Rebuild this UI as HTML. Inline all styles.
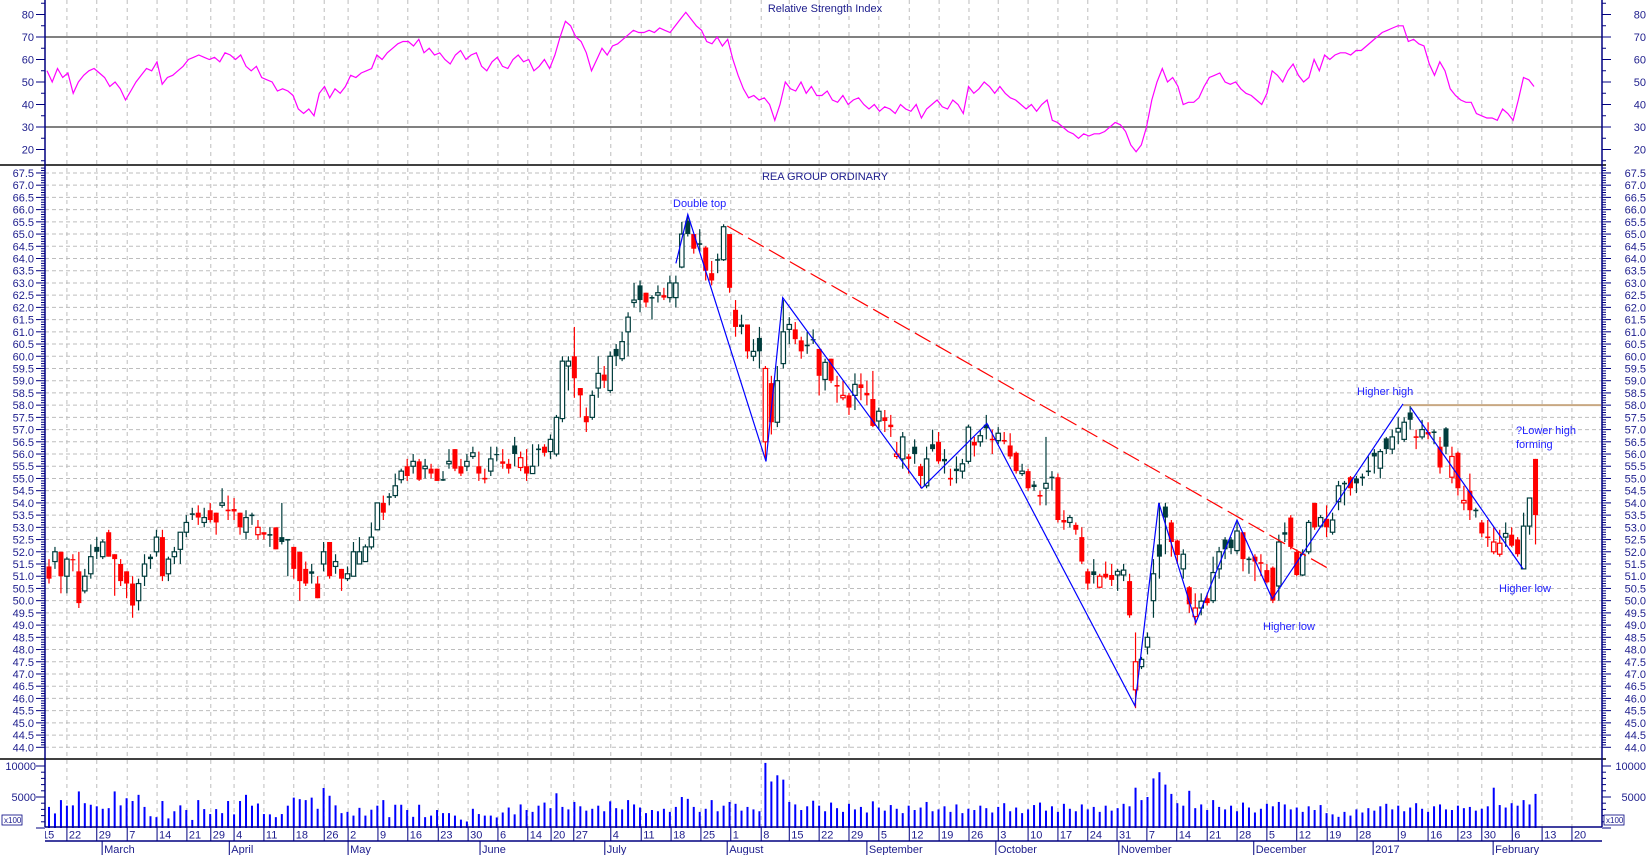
<!DOCTYPE html>
<html><head><meta charset="utf-8">
<style>
html,body{margin:0;padding:0;background:#fff;}
svg{display:block;font-family:"Liberation Sans",sans-serif;}
</style></head>
<body>
<svg id="chart" width="1650" height="855" viewBox="0 0 1650 855" xmlns="http://www.w3.org/2000/svg">
<rect x="0" y="0" width="1650" height="855" fill="#fff"/>
<defs><clipPath id="plotclip"><rect x="45" y="0" width="1557" height="855"/></clipPath></defs>
<g id="grid"></g>
<g id="rsi"></g>
<g id="price"></g>
<g id="vol"></g>
<g id="axes"></g>
<g id="ann"></g>
</svg>
<script>
const opens=[51.4,51.6,52.0,51.0,51.7,51.2,50.4,51.1,52.2,51.8,52.8,51.9,51.5,51.2,50.7,50.0,51.0,51.8,52.0,52.6,51.1,51.8,52.1,52.8,53.55,53.6,53.2,53.7,53.6,53.9,53.7,53.75,53.6,52.8,53.5,52.7,52.8,52.7,53.0,52.6,52.5,52.2,52.0,51.3,51.2,50.7,51.5,52.4,51.4,51.3,50.9,51.0,51.5,51.6,52.2,52.9,54.0,54.2,54.3,
54.95,55.5,55.5,55.7,55.4,55.4,55.4,54.95,55.6,56.2,55.5,55.5,55.9,55.5,55.0,55.3,56.0,55.7,55.6,56.35,55.45,55.5,55.2,56.2,56.3,56.1,56.0,57.45,59.6,60.0,58.7,57.55,57.5,
58.7,59.25,58.6,60.3,59.9,61.0,62.2,62.9,62.6,62.4,62.5,62.5,62.4,62.4,63.65,65.55,65.0,64.6,64.45,63.4,63.95,63.95,65.0,61.9,61.3,61.3,60.0,60.75,56.5,58.9,57.3,59.7,61.1,
61.1,60.65,60.45,60.7,60.3,59.05,59.9,58.8,58.3,58.4,58.4,58.85,58.5,58.25,57.35,57.5,57.2,55.9,55.8,55.9,56.3,55.5,54.7,56.4,56.5,55.8,55.0,55.4,55.3,55.7,56.5,56.5,
57.2,56.6,56.55,56.55,56.35,56.05,55.2,55.3,54.75,54.3,54.6,55.05,55.05,53.3,53.2,53.1,52.6,51.2,51.2,50.55,51.1,51.05,51.05,51.05,50.8,46.35,47.3,48.1,50.0,52.3,53.85,53.2,52.46,
51.3,50.55,49.35,49.7,50.1,50.0,51.3,52.5,52.5,52.05,52.8,51.7,51.8,51.55,51.25,51.35,50.6,52.8,53.4,52.0,51.05,52.0,54.0,53.05,53.35,52.8,54.05,54.8,55.05,55.0,55.05,55.3,56.05,
55.42,56.64,56.2,56.9,56.6,57.7,56.7,56.7,56.9,56.9,56.3,57.05,55.05,56.05,54.0,54.5,53.7,53.2,52.6,52.0,51.9,52.6,52.7,52.5,51.3,53.05,55.8];
const closes=[50.9,52.0,51.0,51.7,51.65,49.9,51.0,51.8,52.0,52.4,51.8,51.7,50.8,50.7,49.8,50.7,51.5,51.7,52.6,51.0,51.7,52.0,52.8,53.2,53.55,53.4,53.4,53.3,53.2,54.0,53.7,53.65,53.0,53.4,53.5,53.0,52.7,52.7,52.1,52.4,52.5,51.3,50.8,50.7,51.1,50.1,52.0,51.0,51.6,50.9,51.1,52.0,52.0,52.2,52.6,54.0,53.6,54.25,54.7,
55.3,55.1,55.7,54.95,55.5,55.2,54.9,54.95,55.7,55.4,55.2,55.7,56.05,55.2,55.0,55.8,55.95,55.6,55.4,56.0,55.85,55.2,55.5,56.2,56.05,56.6,57.5,59.8,59.8,59.1,58.4,57.3,58.4,
59.3,59.0,60.0,60.0,60.6,61.6,62.3,62.3,62.2,62.4,62.6,62.4,63.0,63.0,65.0,65.0,64.4,64.6,63.5,63.1,63.95,65.3,62.8,61.2,61.2,60.2,60.2,60.2,59.5,57.3,59.0,61.0,61.3,
60.7,60.2,60.45,60.65,59.2,59.75,59.0,58.8,58.4,57.9,58.85,58.7,58.4,57.15,57.75,57.35,57.1,56.0,56.7,55.8,56.0,55.1,55.8,56.2,55.7,55.7,55.0,55.3,55.6,57.1,56.35,56.75,
57.05,56.6,56.85,56.55,55.9,55.3,55.3,54.6,54.65,54.3,54.8,55.05,53.3,53.2,53.4,52.9,51.6,50.7,51.05,51.0,50.95,50.85,51.2,51.25,49.4,47.5,47.6,48.5,51.1,51.8,53.4,52.4,51.87,
51.9,49.85,49.7,49.98,49.9,51.15,52.0,52.1,52.15,52.85,51.7,51.7,51.6,51.55,50.75,50.0,52.4,52.7,52.2,51.05,51.9,53.2,53.0,53.4,53.0,53.3,54.7,54.8,54.6,54.8,55.05,55.3,55.9,
56.1,56.2,56.7,57.05,57.3,57.4,56.7,57.0,56.8,56.9,55.45,56.3,55.9,54.6,54.1,53.7,53.7,52.75,52.6,52.4,52.35,52.75,52.25,51.9,53.05,54.2,53.5];
const highs=[51.7,52.2,52.0,51.8,51.9,52.0,51.3,52.3,52.6,52.5,52.9,51.9,51.7,51.2,51.0,50.9,51.9,51.9,52.9,52.9,51.8,52.2,52.8,53.5,53.8,53.9,53.8,54.0,53.6,54.6,54.3,54.2,53.6,53.7,53.6,53.3,52.8,53.0,53.0,54.0,52.5,52.2,52.0,51.6,51.5,51.0,52.4,52.4,51.9,51.3,51.4,52.4,52.6,52.3,53.2,54.0,54.3,54.4,55.2,
55.4,55.8,56.0,55.8,55.8,55.6,55.4,55.3,56.2,56.2,55.8,56.0,56.3,56.1,55.4,56.3,56.3,56.2,55.8,56.7,56.1,56.2,56.4,56.4,56.4,56.8,57.6,60.0,60.0,61.2,58.7,57.9,58.6,
60.0,59.6,60.2,60.5,61.0,61.8,63.0,63.1,62.6,62.5,62.9,62.8,63.3,63.3,65.5,65.8,65.0,65.2,64.5,63.9,64.2,65.4,65.0,62.3,61.7,61.3,60.7,61.2,59.6,59.2,59.6,62.3,61.6,
61.4,60.8,61.0,61.1,60.3,59.9,59.9,59.2,59.0,58.5,59.3,59.3,59.0,59.4,57.9,57.8,57.6,56.5,56.9,56.0,56.6,55.6,56.3,57.0,56.9,56.2,55.4,55.9,55.8,57.2,56.7,57.0,
57.6,57.0,57.1,56.9,56.85,56.1,55.6,55.4,54.9,54.5,56.7,55.3,55.2,53.7,53.5,53.2,53.0,51.3,51.7,51.1,51.6,51.5,51.3,51.5,51.1,48.7,47.7,48.7,51.7,54.0,54.0,53.3,52.5,
52.1,50.6,50.3,50.3,50.3,51.8,52.2,52.6,52.6,53.2,52.8,51.8,51.9,51.9,51.5,51.4,52.7,53.2,53.5,52.1,52.1,53.3,54.0,53.5,53.9,53.6,54.9,54.9,55.1,55.1,55.2,55.9,56.2,
56.2,56.7,57.0,57.5,57.5,58.0,57.0,57.4,57.3,57.0,56.7,57.1,56.3,56.1,54.7,55.2,53.8,53.3,53.3,53.0,52.9,53.2,53.0,52.6,53.6,54.2,55.8];
const lows=[50.7,51.3,50.3,50.3,51.2,49.7,50.3,50.9,51.7,51.7,51.8,50.2,50.6,50.1,49.3,49.6,50.6,51.3,51.8,50.8,50.8,51.5,51.5,52.6,53.3,53.1,53.0,53.2,52.7,53.8,53.3,53.3,52.7,52.5,53.1,52.5,52.5,52.2,52.1,52.3,51.0,50.9,50.0,50.6,50.7,50.1,51.2,50.9,51.1,50.4,50.8,51.0,51.5,51.6,52.1,52.9,53.3,53.9,54.2,
54.8,54.9,55.2,54.9,55.0,55.0,54.9,54.9,55.4,55.3,55.1,55.3,55.8,54.9,54.8,55.1,55.7,55.4,55.2,55.5,55.3,54.9,55.2,55.5,55.9,55.8,55.9,57.3,58.6,58.3,57.5,56.9,57.4,
58.3,58.7,58.5,59.6,59.8,60.0,62.0,61.8,62.0,61.5,62.2,62.3,62.2,62.0,63.6,64.9,64.2,64.3,63.1,62.9,63.4,63.9,62.6,60.8,60.9,59.9,59.8,59.5,55.8,56.8,57.1,59.5,60.5,
60.5,59.9,60.1,60.5,58.4,58.6,58.9,58.1,58.2,57.6,57.8,58.2,58.0,57.1,57.0,56.9,56.7,55.8,55.4,55.2,55.6,54.6,54.6,56.1,55.6,55.2,54.7,54.8,55.0,55.6,55.9,56.3,
56.6,56.0,56.4,56.4,55.8,55.2,55.1,54.5,54.5,53.9,53.9,54.5,53.2,52.9,53.0,52.7,51.5,50.45,50.7,50.5,50.9,50.6,50.4,50.8,49.3,45.6,47.2,47.8,49.3,50.9,51.9,51.8,51.5,
50.9,49.5,49.0,49.4,49.8,49.9,50.9,51.7,51.9,51.9,51.2,51.1,50.8,51.0,50.7,49.9,50.0,52.4,52.1,51.0,51.0,51.9,52.9,53.0,52.6,52.7,53.7,53.9,54.3,54.4,54.7,55.1,55.2,
55.0,56.0,56.0,56.4,56.5,57.0,56.2,56.6,56.6,56.4,55.2,56.0,54.8,54.3,53.7,53.3,53.4,52.6,52.2,51.9,51.8,52.2,52.2,51.8,51.3,52.7,52.3];
const volumes=[3400,2350,4500,3600,3650,5900,4000,3750,3500,3100,3200,5900,3650,4800,4350,5350,3400,1900,1750,4350,1550,2700,3650,2900,1300,4500,3050,2250,3050,2400,4350,2200,4350,5350,3600,3950,2250,2200,1750,2250,3600,4900,4650,4500,4900,3100,6450,5200,3650,2400,2600,2000,3250,2000,2950,3600,4500,1750,3750,3750,2900,1800,3750,1750,2000,2900,2400,2400,2000,1350,1050,3100,2250,2000,2000,1700,
2500,3300,2200,3800,2900,2600,3600,4100,3200,5600,3400,3000,4200,3500,2800,3100,
3600,2700,4300,3200,3000,4500,3800,3300,2400,2900,2700,3100,2600,3400,
5000,4700,3400,2600,3100,4500,2700,3600,4200,3900,2800,3400,3000,2700,
10500,7500,8500,7800,4200,
3800,2900,3500,4400,3600,2700,4100,3200,2600,3900,3000,3400,2500,4300,3300,2800,3700,3100,2400,3600,2900,3300,4200,2700,3000,3500,2600,3800,2400,3100,2900,3600,3200,2500,3400,4000,2700,3300,2400,3000,3700,4100,2800,3500,2600,3900,3100,2700,3800,3000,3400,2600,3600,2800,3200,3900,
3500,6500,4500,5000,8000,9000,7000,5500,4000,3600,6000,
3200,3800,2900,4500,3400,3000,3600,2700,4100,3300,2500,3100,3900,3500,4200,3800,3000,3300,2600,3500,2900,3700,2400,2200,1800,2600,2000,3000,2500,3200,2800,3500,3900,3000,3600,2700,3300,4000,3100,2600,3500,3800,3000,2900,3600,3200,3400,2800,3100,3500,6500,3700,3300,4000,3600,4500,3800,5500];
const rsiValues=[55,50,56,52,54,45,50,53,55,56,54,52,48,50,47,42,46,50,53,56,55,59,49,52,53,55,57,60,61,62,61,60,61,59,63,62,60,62,57,55,57,52,51,50,46,47,46,44,38,36,38,35,45,48,43,47,45,48,53,52,54,55,56,62,60,63,65,67,68,68,66,69,63,65,62,63,60,58,62,64,60,62,63,57,55,59,61,57,56,60,62,59,60,55,57,60,56,62,70,77,75,70,68,63,55,60,65,62,66,67,69,71,73,72,72,73,72,74,73,72,75,78,81,78,75,73,68,67,70,66,69,60,53,47,43,44,42,43,40,33,40,50,47,46,50,45,48,44,44,46,42,41,44,40,42,43,40,38,40,37,39,38,36,40,38,37,40,34,38,40,42,39,38,42,40,36,48,45,47,50,48,45,48,45,43,42,40,38,40,37,40,42,33,32,30,28,27,25,27,26,27,27,28,30,32,31,28,22,19,22,30,42,50,56,50,52,48,40,41,41,43,48,52,53,54,50,49,50,47,45,44,42,40,45,55,53,50,55,58,53,50,52,60,55,62,60,62,63,63,62,64,64,66,68,70,72,73,74,75,75,68,69,67,66,58,53,59,55,47,44,42,41,41,36,35,34,34,33,38,36,33,42,52,51,48];
const dayLabels=["15","22","29","7","14","21","29","4","11","18","26","2","9","16","23","30","6","14","20","27","4","11","18","25","1","8","15","22","29","5","12","19","26","3","10","17","24","31","7","14","21","28","5","12","19","28","9","16","23","30","6","13","20"];
const dayIdx=[-1.5,3,8,13.1,18.1,23.1,27.1,31,36,41,46.1,50.1,55.1,60.1,65.2,70.2,75.2,80.2,84.1,87.9,94.1,99.2,104.2,109.2,114.2,119.3,124,129,134,139,144.1,149.1,154.1,159,164,169,174,178.9,183.9,188.9,194,199,204,209,214.1,219.1,226,231,236,240,245.1,250.1,255.1];
const monthLabels=["March","April","May","June","July","August","September","October","November","December","2017","February"];
const monthIdx=[8.9,30.2,50.1,72.2,93.1,113.6,137.0,158.6,179.2,201.8,221.8,241.9];
const priceTicks=[44,44.5,45,45.5,46,46.5,47,47.5,48,48.5,49,49.5,50,50.5,51,51.5,52,52.5,53,53.5,54,54.5,55,55.5,56,56.5,57,57.5,58,58.5,59,59.5,60,60.5,61,61.5,62,62.5,63,63.5,64,64.5,65,65.5,66,66.5,67,67.5];
const rsiTicks=[20,30,40,50,60,70,80];
const volTicks=[5000,10000];
const zigA=[[105.0,63.8],[107.0,65.8],[120.1,55.7],[122.9,62.4],[146.2,54.6],[157.1,57.25],[181.9,45.7],[185.9,54.0],[192.1,49.1],[199.0,53.3],[204.9,50.07],[226.8,58.05]];
const zigB=[[228.1,57.9],[246.9,51.3]];
const downTrend=[[113.6,65.33],[214.2,51.33]];
const resistance=[[226.8,58.0],[260,58.0]];

const NS="http://www.w3.org/2000/svg";
const L=45,R=1602;
const xOf=i=>49+5.97*i;
const yP=p=>747.3-(p-44)*24.44;
const yR=v=>37+(70-v)*2.25;
const yV=v=>828-v*31/5000;
function mk(parent,tag,attrs,text){const e=document.createElementNS(NS,tag);for(const k in attrs)e.setAttribute(k,attrs[k]);if(text!==undefined)e.textContent=text;parent.appendChild(e);return e;}
const G=document.getElementById('grid'),RS=document.getElementById('rsi'),PR=document.getElementById('price'),VO=document.getElementById('vol'),AX=document.getElementById('axes'),AN=document.getElementById('ann');
const NAVY="#1c1c8c";
// vertical grid
dayIdx.forEach((d,k)=>{const x=xOf(d);if(x<L+2||x>R-1)return;
 const ln=mk(G,'line',{x1:x,y1:0,x2:x,y2:827,stroke:'#bdbdbd','stroke-width':1,'stroke-dasharray':'4,4'});
 
 });
// horizontal price grid
priceTicks.forEach(p=>{const ln=mk(G,'line',{x1:L,y1:yP(p),x2:R,y2:yP(p),stroke:'#bdbdbd','stroke-width':1,'stroke-dasharray':'4,3'});
 
 });
// RSI
[70,30].forEach(v=>{const ln=mk(RS,'line',{x1:L,y1:yR(v),x2:R,y2:yR(v),stroke:'#808080','stroke-width':2});
 
 });
const rx0=47,rx1=1534;
const rpts=rsiValues.map((v,i)=>(rx0+(rx1-rx0)*i/(rsiValues.length-1)).toFixed(1)+','+yR(v).toFixed(1)).join(' ');
const rl=mk(RS,'polyline',{points:rpts,fill:'none',stroke:'#ff00ff','stroke-width':1.2});


const t1=mk(RS,'text',{x:825,y:12,'font-size':11,fill:NAVY,'text-anchor':'middle'},'Relative Strength Index');


// candles
const UP="#003c3c",DN="#ff0000";
opens.forEach((o,i)=>{const c=closes[i],h=highs[i],l=lows[i];const prev=i>0?closes[i-1]:o;
 const col=c<prev?DN:UP;const x=xOf(i);
 const g=mk(PR,'g',{});
 
 
 mk(g,'line',{x1:x,y1:yP(h),x2:x,y2:yP(l),stroke:col,'stroke-width':1.2});
 const top=yP(Math.max(o,c)),bot=yP(Math.min(o,c));const hh=Math.max(bot-top,1);
 if(c<o) mk(g,'rect',{x:x-2.5,y:top,width:5,height:hh,fill:col});
 else if(bot-top<1.5) mk(g,'rect',{x:x-2.5,y:top-0.6,width:5,height:1.6,fill:col});
 else mk(g,'rect',{x:x-2.2,y:top,width:4.4,height:hh,fill:'#fff',stroke:col,'stroke-width':1.2});
});
const t2=mk(PR,'text',{x:825,y:180,'font-size':11,fill:NAVY,'text-anchor':'middle'},'REA GROUP ORDINARY');


// volume
volumes.forEach((v,i)=>{const x=xOf(i);const b=mk(VO,'rect',{x:x-1,y:yV(v),width:2,height:828-yV(v),fill:'#0000ff'});
 
 });
// annotations
function poly(pts,attrs,name){const p=mk(AN,'polyline',Object.assign({points:pts.map(q=>xOf(q[0]).toFixed(1)+','+yP(q[1]).toFixed(1)).join(' '),fill:'none'},attrs));}
poly(downTrend,{stroke:'#ff0000','stroke-width':1.2,'stroke-dasharray':'18,6'},'downtrend-line');
poly(resistance,{stroke:'#c8a882','stroke-width':2},'resistance-line-58');
poly(zigA,{stroke:'#0000ff','stroke-width':1.2},'zigzag-line');
poly(zigB,{stroke:'#0000ff','stroke-width':1.2},'zigzag-line-2');
[['Double top',673,207,'double-top-label'],['Higher high',1357,395,'higher-high-label'],['?Lower high',1516,434,'lower-high-label'],['forming',1516,448,'forming-label'],['Higher low',1263,630,'higher-low-label-1'],['Higher low',1499,592,'higher-low-label-2']].forEach(a=>{
 const t=mk(AN,'text',{x:a[1],y:a[2],'font-size':11,fill:'#2020ff'},a[0]);
 
 });
// axes frame
mk(AX,'line',{x1:0,y1:165,x2:R+4,y2:165,stroke:'#000','stroke-width':1.5});
mk(AX,'line',{x1:0,y1:759,x2:R+4,y2:759,stroke:'#000','stroke-width':1.5});
mk(AX,'line',{x1:L,y1:0,x2:L,y2:827,stroke:'#000080','stroke-width':1.5});
mk(AX,'line',{x1:R,y1:0,x2:R,y2:827,stroke:'#000080','stroke-width':1.5});
mk(AX,'line',{x1:L,y1:827,x2:R,y2:827,stroke:'#000080','stroke-width':1.5});
mk(AX,'line',{x1:L,y1:841,x2:R,y2:841,stroke:'#000080','stroke-width':1.5});
// price ticks & labels
for(let k=0;k<=240;k++){const p=44+k*0.1;if(p>67.8)break;const y=yP(p);if(y<167)continue;const maj=k%5===0;
 mk(AX,'line',{x1:L-(maj?9:4),y1:y,x2:L,y2:y,stroke:'#000080','stroke-width':1});
 mk(AX,'line',{x1:R,y1:y,x2:R+(maj?9:4),y2:y,stroke:'#000080','stroke-width':1});}
priceTicks.forEach(p=>{const y=yP(p)+4;const s=p.toFixed(1);
 const a=mk(AX,'text',{x:34,y:y,'font-size':11,fill:NAVY,'text-anchor':'end'},s);
 
 
 const b=mk(AX,'text',{x:1646,y:y,'font-size':11,fill:NAVY,'text-anchor':'end'},s);
 
 });
// rsi ticks
for(let v=15;v<=85;v+=5){const y=yR(v);if(y<1||y>163)continue;const maj=v%10===0;
 mk(AX,'line',{x1:L-(maj?9:4),y1:y,x2:L,y2:y,stroke:'#000080'});
 mk(AX,'line',{x1:R,y1:y,x2:R+(maj?9:4),y2:y,stroke:'#000080'});}
rsiTicks.forEach(v=>{const y=yR(v)+4;
 const a=mk(AX,'text',{x:34,y:y,'font-size':11,fill:NAVY,'text-anchor':'end'},String(v));
 
 
 const b=mk(AX,'text',{x:1646,y:y,'font-size':11,fill:NAVY,'text-anchor':'end'},String(v));
 
 });
// volume ticks
for(let v=0;v<=11000;v+=1000){const y=yV(v);if(y<761)continue;const maj=v%5000===0;
 mk(AX,'line',{x1:L-(maj?9:4),y1:y,x2:L,y2:y,stroke:'#000080'});
 mk(AX,'line',{x1:R,y1:y,x2:R+(maj?9:4),y2:y,stroke:'#000080'});}
volTicks.forEach(v=>{const y=yV(v)+4;
 const a=mk(AX,'text',{x:36,y:y,'font-size':11,fill:NAVY,'text-anchor':'end'},String(v));
 
 
 const b=mk(AX,'text',{x:1646,y:y,'font-size':11,fill:NAVY,'text-anchor':'end'},String(v));
 
 });
[[2,'volume-unit-left'],[1604,'volume-unit-right']].forEach(u=>{
 const g=mk(AX,'g',{});
 
 
 mk(g,'rect',{x:u[0],y:815,width:20,height:10,fill:'#fff',stroke:'#000080','stroke-width':0.8});
 mk(g,'text',{x:u[0]+2,y:823,'font-size':8,fill:NAVY},'x100');});
// date axis
const DA=mk(AX,'g',{'clip-path':'url(#plotclip)'});
dayIdx.forEach((d,k)=>{const x=xOf(d);
 mk(DA,'line',{x1:x,y1:827,x2:x,y2:841,stroke:'#000080','stroke-width':1});
 const t=mk(DA,'text',{x:x+2,y:838.5,'font-size':11,fill:NAVY},dayLabels[k]);
 
 });
monthIdx.forEach((d,k)=>{const x=xOf(d);
 mk(DA,'line',{x1:x,y1:841,x2:x,y2:855,stroke:'#000080','stroke-width':1});
 const t=mk(DA,'text',{x:x+2,y:853,'font-size':11,fill:NAVY},monthLabels[k]);
 
 });
</script>
</body></html>
